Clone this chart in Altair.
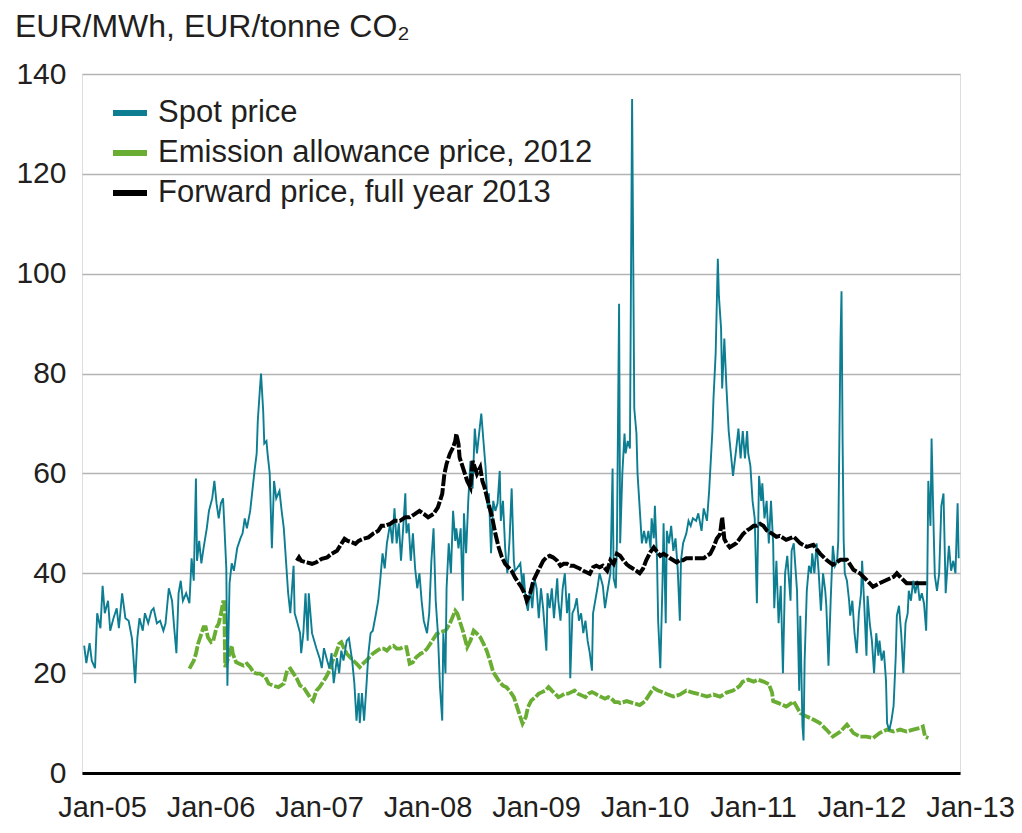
import altair as alt
import pandas as pd

S1 = "Spot price"
S2 = "Emission allowance price, 2012"
S3 = "Forward price, full year 2013"

# ---- Spot price (decimal year, EUR/MWh) ----
spot_t = [
    2005.02, 2005.04, 2005.07, 2005.09, 2005.12, 2005.14, 2005.17, 2005.19, 2005.21, 2005.24,
    2005.26, 2005.29, 2005.32, 2005.34, 2005.37, 2005.40, 2005.43, 2005.46, 2005.47, 2005.49,
    2005.51, 2005.53, 2005.56, 2005.58, 2005.61, 2005.64, 2005.66, 2005.69, 2005.72, 2005.75,
    2005.77, 2005.80, 2005.83, 2005.85, 2005.87, 2005.89, 2005.91, 2005.93, 2005.96, 2005.99,
    2006.01, 2006.03, 2006.05, 2006.06, 2006.08, 2006.10, 2006.12, 2006.15, 2006.17, 2006.20,
    2006.22, 2006.24, 2006.26, 2006.28, 2006.30, 2006.31, 2006.33, 2006.34, 2006.36, 2006.38,
    2006.40, 2006.43, 2006.46, 2006.48, 2006.50, 2006.52, 2006.55, 2006.57, 2006.59, 2006.61,
    2006.62, 2006.64, 2006.65, 2006.67, 2006.68, 2006.70, 2006.71, 2006.73, 2006.75, 2006.77,
    2006.79, 2006.82, 2006.84, 2006.86, 2006.88, 2006.90, 2006.92, 2006.95, 2006.96, 2006.98,
    2007.01, 2007.02, 2007.04, 2007.06, 2007.08, 2007.09, 2007.12, 2007.14, 2007.16, 2007.19,
    2007.21, 2007.23, 2007.26, 2007.28, 2007.30, 2007.32, 2007.35, 2007.37, 2007.39, 2007.41,
    2007.44, 2007.46, 2007.49, 2007.51, 2007.53, 2007.55, 2007.56, 2007.58, 2007.60, 2007.62,
    2007.64, 2007.66, 2007.68, 2007.71, 2007.73, 2007.75, 2007.77, 2007.79, 2007.81, 2007.84,
    2007.86, 2007.88, 2007.90, 2007.92, 2007.94, 2007.96, 2007.98, 2007.99,
    2008.01, 2008.03, 2008.05, 2008.07, 2008.09, 2008.11, 2008.13, 2008.15, 2008.18, 2008.20,
    2008.22, 2008.24, 2008.26, 2008.28, 2008.30, 2008.32, 2008.33, 2008.35, 2008.36, 2008.38,
    2008.40, 2008.42, 2008.44, 2008.45, 2008.47, 2008.49, 2008.51, 2008.52, 2008.54, 2008.56,
    2008.58, 2008.60, 2008.62, 2008.64, 2008.66, 2008.68, 2008.70, 2008.72, 2008.74, 2008.75,
    2008.77, 2008.79, 2008.81, 2008.83, 2008.85, 2008.86, 2008.88, 2008.90, 2008.92, 2008.94,
    2008.96, 2008.98, 2008.99,
    2009.01, 2009.04, 2009.06, 2009.07, 2009.09, 2009.11, 2009.13, 2009.15, 2009.17, 2009.19,
    2009.21, 2009.23, 2009.25, 2009.28, 2009.29, 2009.31, 2009.33, 2009.35, 2009.38, 2009.39,
    2009.41, 2009.43, 2009.45, 2009.47, 2009.49, 2009.50, 2009.52, 2009.54, 2009.56, 2009.58,
    2009.60, 2009.62, 2009.64, 2009.66, 2009.68, 2009.70, 2009.71, 2009.73, 2009.75, 2009.77,
    2009.80, 2009.82, 2009.84, 2009.87, 2009.89, 2009.90, 2009.92, 2009.93, 2009.95, 2009.96,
    2009.98,
    2010.00, 2010.01, 2010.03, 2010.05, 2010.07, 2010.09, 2010.11, 2010.12, 2010.14, 2010.16,
    2010.18, 2010.20, 2010.22, 2010.24, 2010.25, 2010.27, 2010.28, 2010.30, 2010.31, 2010.33,
    2010.35, 2010.36, 2010.38, 2010.39, 2010.41, 2010.43, 2010.45, 2010.47, 2010.49, 2010.51,
    2010.52, 2010.54, 2010.57, 2010.59, 2010.61, 2010.63, 2010.66, 2010.68, 2010.71, 2010.73,
    2010.76, 2010.78, 2010.81, 2010.82, 2010.84, 2010.86, 2010.87, 2010.89, 2010.90, 2010.92,
    2010.94, 2010.96, 2010.98,
    2011.00, 2011.03, 2011.05, 2011.07, 2011.09, 2011.11, 2011.13, 2011.14, 2011.16, 2011.18,
    2011.20, 2011.22, 2011.24, 2011.26, 2011.27, 2011.29, 2011.31, 2011.33, 2011.35, 2011.37,
    2011.38, 2011.40, 2011.42, 2011.44, 2011.46, 2011.48, 2011.50, 2011.53, 2011.54, 2011.56,
    2011.59, 2011.61, 2011.62, 2011.64, 2011.65, 2011.66, 2011.68, 2011.70, 2011.72, 2011.73,
    2011.75, 2011.77, 2011.79, 2011.81, 2011.83, 2011.85, 2011.86, 2011.88, 2011.90, 2011.92,
    2011.94, 2011.96, 2011.97, 2011.99,
    2012.00, 2012.01, 2012.02, 2012.03, 2012.05, 2012.07, 2012.08, 2012.10, 2012.12, 2012.14,
    2012.16, 2012.18, 2012.19, 2012.21, 2012.23, 2012.24, 2012.26, 2012.28, 2012.30, 2012.32,
    2012.34, 2012.35, 2012.37, 2012.39, 2012.41, 2012.42, 2012.44, 2012.46, 2012.48, 2012.50,
    2012.51, 2012.53, 2012.55, 2012.57, 2012.59, 2012.61, 2012.62, 2012.64, 2012.66, 2012.68,
    2012.70, 2012.72, 2012.74, 2012.76, 2012.78, 2012.79, 2012.80, 2012.82, 2012.83, 2012.85,
    2012.86, 2012.88, 2012.90, 2012.92, 2012.94, 2012.96, 2012.98, 2012.99,
    2013.01, 2013.03, 2013.05, 2013.07, 2013.08,
]
spot_v = [
    25.5, 22, 26, 22.5, 21, 32, 29, 37.5, 32, 34.5,
    28.5, 31, 33, 29, 36, 31, 30.5, 27, 24.5, 18,
    27, 31, 28.5, 32, 30, 32.5, 33, 30, 30.5, 28.5,
    30, 37, 34.5, 29, 24, 36, 38.5, 34.5, 36, 34,
    43, 38.5, 59, 42.5, 46.5, 42, 45, 49, 52.5, 55,
    58.5, 54, 51, 54, 55, 50.5, 41, 17.5, 38, 42,
    40.5, 45, 47, 48, 51, 49, 52.5, 56.5, 60.5, 64,
    70.5, 77, 80, 72.5, 66, 66.5, 64, 60, 45, 58.5,
    55, 56.5, 52.5, 49, 42.5, 36, 32, 41.5, 32, 30.5,
    28, 24, 28, 36, 26.5, 36, 28, 26.5, 25, 23,
    21, 25, 22.5, 21, 24, 18, 23, 20, 24.5, 22.5,
    26.5, 27, 22.5, 18, 10.5, 16, 10, 16, 10.5, 17,
    24, 28, 28.5, 32, 34.5, 39, 44, 41, 46, 50,
    46, 53, 46, 50, 42.5, 49, 56, 48,
    50, 42.5, 48, 41, 37, 40, 34.5, 30.5, 28, 32,
    42.5, 49, 34.5, 28, 17, 10.5, 28, 20, 37, 46,
    40, 52.5, 46.5, 49, 45, 49, 34.5, 52, 44, 54.5,
    62.5, 57, 69, 64, 68, 72, 66.5, 61, 53, 56,
    44, 54.5, 52.5, 54, 60.5, 50.5, 54.5, 45, 40, 46.5,
    57, 42.5, 40.5,
    41, 42, 37, 40, 34.5, 32.5, 37, 33, 39, 37,
    31, 37, 33, 24.5, 36, 33, 37, 31, 39, 34.5,
    30.5, 37, 40, 32, 36, 19, 32, 33, 35, 30.5,
    32, 28, 30.5, 26.5, 24, 20.5, 32, 34.5, 37, 40,
    37.5, 33, 36, 40, 61, 39, 37, 46, 94, 46,
    60,
    68, 64, 66.5, 65, 135, 73, 68, 60, 53, 46,
    48.5, 46, 48.5, 45, 51, 47, 53.5, 42.5, 30.5, 21,
    38, 50, 30, 48.5, 46, 49.5, 44.5, 47, 41, 30.5,
    42.5, 46, 48, 50.5, 49.5, 51, 50.5, 52, 48.5, 53,
    50.5, 56.5, 68.5, 75, 84, 103, 95.5, 89, 77, 87,
    77, 68.5, 64,
    59.5, 65, 69, 63, 68.5, 63, 68.5, 64, 61.5, 54.5,
    51, 34, 59.5, 54.5, 58, 51, 54.5, 46, 54.5, 46,
    33, 42.5, 30, 37.5, 20, 40, 43.5, 34.5, 44.5, 46,
    36.5, 16.5, 31.5, 9.5, 6.5, 22.5, 36.5, 41.5, 40, 44,
    40, 46, 40, 32.5, 40, 36.5, 33.5, 21.5, 34.5, 45.5,
    41.5, 42.5, 46.5, 86,
    96.5, 66.5, 46.5, 40, 38.5, 34.5, 31.5, 34.5, 28, 24,
    32, 36, 42.5, 33.5, 23.5, 35.5, 30, 26.5, 20, 28,
    23.5, 26.5, 22.5, 24.5, 18.5, 10, 8.5, 10.5, 13.5, 23.5,
    31.5, 33.5, 28, 20, 30, 32, 36.5, 34.5, 38.5, 36,
    38.5, 34.5, 36, 34, 28.5, 37.5, 58.5, 49.5, 67, 48,
    39.5, 36.5, 40, 53.5, 56, 36, 42.5, 45.5,
    40.5, 42.5, 40, 54, 43,
]

# ---- Emission allowance price, 2012 (EUR/tonne CO2) ----
emis_t = [
    2005.99,
    2006.03, 2006.05, 2006.07, 2006.09, 2006.12, 2006.14, 2006.16, 2006.19, 2006.21, 2006.24,
    2006.26, 2006.28, 2006.30, 2006.31, 2006.32, 2006.34, 2006.36, 2006.38, 2006.39, 2006.42,
    2006.45, 2006.49, 2006.52, 2006.55, 2006.58, 2006.61, 2006.64, 2006.69, 2006.72, 2006.76,
    2006.81, 2006.86, 2006.89, 2006.92, 2006.95, 2006.98,
    2007.01, 2007.04, 2007.07, 2007.10, 2007.13, 2007.16, 2007.19, 2007.22, 2007.25, 2007.28,
    2007.31, 2007.34, 2007.37, 2007.39, 2007.41, 2007.44, 2007.47, 2007.50, 2007.53, 2007.56,
    2007.59, 2007.62, 2007.65, 2007.68, 2007.72, 2007.75, 2007.78, 2007.81, 2007.84, 2007.87,
    2007.90, 2007.93, 2007.96, 2007.99,
    2008.02, 2008.05, 2008.08, 2008.12, 2008.15, 2008.18, 2008.21, 2008.24, 2008.27, 2008.30,
    2008.35, 2008.39, 2008.44, 2008.46, 2008.48, 2008.51, 2008.55, 2008.58, 2008.61, 2008.64,
    2008.67, 2008.70, 2008.73, 2008.76, 2008.79, 2008.82, 2008.85, 2008.88, 2008.91, 2008.94,
    2008.98,
    2009.01, 2009.04, 2009.06, 2009.09, 2009.11, 2009.14, 2009.18, 2009.21, 2009.24, 2009.27,
    2009.30, 2009.33, 2009.36, 2009.39, 2009.42, 2009.45, 2009.48, 2009.51, 2009.54, 2009.57,
    2009.61, 2009.64, 2009.67, 2009.70, 2009.73, 2009.76, 2009.79, 2009.82, 2009.85, 2009.88,
    2009.91, 2009.94, 2009.96,
    2010.02, 2010.08, 2010.14, 2010.19, 2010.24, 2010.27, 2010.31, 2010.36, 2010.40, 2010.45,
    2010.51, 2010.57, 2010.63, 2010.70, 2010.76, 2010.82, 2010.88, 2010.94,
    2011.00, 2011.06, 2011.09, 2011.14, 2011.19, 2011.23, 2011.28, 2011.33, 2011.36, 2011.37,
    2011.42, 2011.46, 2011.49, 2011.56, 2011.62, 2011.68, 2011.74, 2011.80, 2011.86, 2011.92,
    2011.99,
    2012.05, 2012.11, 2012.17, 2012.23, 2012.29, 2012.35, 2012.42, 2012.48, 2012.54, 2012.60,
    2012.66, 2012.72, 2012.75, 2012.77, 2012.80,
]
emis_v = [
    20.9,
    22.5, 23.9, 25.9, 27.2, 29.2, 29.2, 27.2, 26.2, 26.5, 29.2,
    29.9, 31.9, 34.2, 34.2, 21.2, 22.5, 23.9, 25.5, 23.9, 22.2,
    21.9, 21.5, 21.9, 21.2, 20.2, 19.9, 19.9, 19.2, 17.9, 17.5,
    17.2, 17.9, 20.5, 20.9, 19.9, 18.9,
    17.5, 17.2, 16.2, 15.2, 14.5, 16.5, 17.2, 18.2, 19.2, 20.5,
    22.5, 23.9, 25.9, 26.2, 25.2, 23.9, 23.2, 22.5, 21.9, 21.2,
    21.9, 22.5, 23.2, 23.9, 24.5, 24.9, 24.9, 24.5, 25.2, 25.5,
    24.9, 24.9, 25.2, 25.2,
    21.9, 22.2, 23.2, 23.9, 24.2, 24.9, 25.9, 26.9, 27.9, 28.2,
    28.5, 29.9, 32.5, 31.9, 30.5, 28.5, 25.2, 26.5, 28.5, 27.9,
    27.2, 25.9, 24.5, 22.5, 20.2, 19.2, 18.2, 17.5, 17.2, 16.5,
    15.2,
    13.2, 11.2, 9.9, 11.2, 13.2, 14.5, 15.2, 15.9, 16.2, 16.5,
    17.2, 16.5, 15.9, 15.2, 15.5, 15.9, 15.9, 16.2, 16.5, 15.9,
    15.5, 15.2, 15.9, 16.2, 15.9, 15.5, 15.2, 14.9, 15.2, 14.9,
    14.2, 14.2, 14,
    14.4, 14, 13.6, 14.4, 16.1, 17, 16.5, 16.1, 15.7, 15.3,
    15.7, 16.5, 16.1, 15.7, 15.3, 15.7, 15.3, 16.1,
    16.5, 17.4, 18.3, 18.7, 18.3, 18.7, 18.3, 17.8, 16.1, 14.4,
    14, 13.6, 13.3, 14.3, 12, 11.3, 10.7, 10, 8.7, 7.3,
    8.3,
    9.7, 8, 7.3, 7.3, 7, 8, 8.7, 8.3, 8.7, 8.3,
    8.7, 9, 9.3, 7.3, 7,
]

# ---- Forward price, full year 2013 (EUR/MWh) ----
fwd_t = [
    2006.98,
    2007.00, 2007.02, 2007.07, 2007.12, 2007.16, 2007.21, 2007.26, 2007.30, 2007.35, 2007.39,
    2007.42, 2007.45, 2007.49, 2007.52, 2007.55, 2007.59, 2007.64, 2007.68, 2007.73, 2007.76,
    2007.79, 2007.84, 2007.88, 2007.93, 2007.98,
    2008.02, 2008.07, 2008.11, 2008.15, 2008.19, 2008.24, 2008.28, 2008.32, 2008.34, 2008.36,
    2008.39, 2008.42, 2008.44, 2008.45, 2008.47, 2008.48, 2008.51, 2008.55, 2008.58, 2008.60,
    2008.62, 2008.64, 2008.67, 2008.69, 2008.71, 2008.74, 2008.78, 2008.81, 2008.84, 2008.87,
    2008.90, 2008.93, 2008.96, 2008.99,
    2009.02, 2009.05, 2009.08, 2009.10, 2009.13, 2009.16, 2009.19, 2009.22, 2009.25, 2009.28,
    2009.31, 2009.34, 2009.38, 2009.41, 2009.44, 2009.47, 2009.50, 2009.53, 2009.56, 2009.59,
    2009.62, 2009.65, 2009.68, 2009.71, 2009.74, 2009.77, 2009.80, 2009.84, 2009.87, 2009.90,
    2009.93, 2009.96, 2009.99,
    2010.02, 2010.05, 2010.08, 2010.11, 2010.14, 2010.17, 2010.20, 2010.24, 2010.27, 2010.30,
    2010.33, 2010.36, 2010.39, 2010.42, 2010.45, 2010.48, 2010.51, 2010.54, 2010.57, 2010.60,
    2010.63, 2010.67, 2010.70, 2010.73, 2010.76, 2010.79, 2010.82, 2010.85, 2010.88, 2010.90,
    2010.92, 2010.94, 2010.97,
    2011.00, 2011.03, 2011.06, 2011.09, 2011.13, 2011.16, 2011.19, 2011.22, 2011.25, 2011.28,
    2011.31, 2011.34, 2011.37, 2011.40, 2011.43, 2011.49, 2011.56, 2011.62, 2011.68, 2011.74,
    2011.80, 2011.86, 2011.92, 2011.99,
    2012.05, 2012.11, 2012.17, 2012.23, 2012.29, 2012.35, 2012.42, 2012.48, 2012.51, 2012.54,
    2012.60, 2012.66, 2012.72, 2012.79,
]
fwd_v = [
    42.5,
    43.2, 42.5, 42.2, 41.9, 42.2, 42.9, 43.2, 43.9, 44.5, 45.9,
    46.9, 46.5, 46.2, 45.9, 46.5, 46.9, 47.2, 47.9, 48.5, 49.5,
    49.5, 49.9, 50.5, 50.5, 51.2,
    51.2, 51.9, 52.5, 51.9, 51.2, 51.9, 53.2, 55.9, 59.9, 61.9,
    63.9, 65.2, 66.5, 67.9, 65.9, 63.2, 61.2, 58.5, 57.2, 62.5,
    61.2, 59.9, 61.2, 58.5, 57.2, 54.5, 51.2, 47.9, 45.2, 43.2,
    41.9, 41.2, 40.5, 39.2,
    38.2, 37.2, 35.9, 34.5, 35.9, 38.5, 39.9, 41.2, 42.5, 43.2,
    43.5, 43.2, 42.5, 41.5, 41.9, 41.9, 41.5, 41.5, 41.2, 40.9,
    40.5, 40.2, 39.9, 41.2, 41.5, 41.2, 41.5, 40.5, 42.6, 41.9,
    43.9, 43.5, 42.6,
    41.8, 41.3, 40.9, 40.5, 40, 40.9, 42.6, 44.3, 45.2, 44.3,
    43.5, 43.9, 43.5, 43, 42.6, 42.2, 42.6, 42.6, 43, 43,
    43, 43, 43, 43, 43.5, 43.9, 45.2, 46.9, 47.8, 51.2,
    46.9, 46, 45.2,
    45.6, 46, 46.9, 47.8, 48.6, 49, 49.5, 49.5, 49.9, 49.5,
    48.6, 48.2, 47.8, 47.3, 47.5, 46.7, 47.3, 46, 45.3, 45.7,
    44, 42.7, 41.7, 42.7,
    42.7, 40.7, 40, 38.7, 37.3, 38, 38.7, 39.3, 40, 39.3,
    38, 38, 38, 38,
]

assert len(spot_t) == len(spot_v)
assert len(emis_t) == len(emis_v)
assert len(fwd_t) == len(fwd_v)

series_names = [S1, S2, S3]
series_colors = ["#0d7d92", "#69ad32", "#000000"]
year_ticks = list(range(2005, 2014))
y_ticks = [0, 20, 40, 60, 80, 100, 120, 140]

df = pd.concat([
    pd.DataFrame({"t": spot_t, "v": spot_v, "series": S1}),
    pd.DataFrame({"t": emis_t, "v": emis_v, "series": S2}),
    pd.DataFrame({"t": fwd_t, "v": fwd_v, "series": S3}),
], ignore_index=True)

FONT = "Liberation Sans, Arial, sans-serif"
TXT = "#231f20"

legend = alt.Legend(
    title=None, orient="none", legendX=28, legendY=19, direction="vertical",
    symbolType="stroke", symbolSize=1156, symbolStrokeWidth=6, symbolDash=[1, 0],
    labelFont=FONT, labelFontSize=31, labelColor=TXT, labelOffset=8,
    rowPadding=5, padding=0, labelLimit=600,
)

color = alt.Color("series:N",
                  scale=alt.Scale(domain=series_names, range=series_colors),
                  legend=legend)

x = alt.X("t:Q",
          scale=alt.Scale(domain=[2005, 2013.092], nice=False, zero=False),
          axis=alt.Axis(values=year_ticks, title=None, grid=False, ticks=False, tickSize=0,
                        labelExpr="'Jan-' + substring(toString(datum.value), 2, 4)",
                        labelFont=FONT, labelFontSize=29, labelColor=TXT,
                        labelPadding=20, labelOffset=20, labelFlush=False,
                        labelOverlap=False, labelBound=False,
                        domainColor="#000000", domainWidth=3))
y = alt.Y("v:Q",
          scale=alt.Scale(domain=[0, 140], nice=False, zero=True),
          axis=alt.Axis(values=y_ticks, title=None, domain=False, ticks=False, tickSize=0,
                        grid=True, gridColor="#b3b3b3", gridWidth=1.6,
                        labelFont=FONT, labelFontSize=30, labelColor=TXT,
                        labelPadding=16))

base = alt.Chart(df)
green = base.transform_filter(alt.datum.series == S2).mark_line(
    strokeWidth=3.8, strokeDash=[11, 2]).encode(x=x, y=y, color=color)
spot = base.transform_filter(alt.datum.series == S1).mark_line(
    strokeWidth=1.9).encode(x=x, y=y, color=color)
black = base.transform_filter(alt.datum.series == S3).mark_line(
    strokeWidth=4, strokeDash=[12, 2]).encode(x=x, y=y, color=color)

chart = alt.layer(green, spot, black).properties(
    width=878, height=699,
    title=alt.TitleParams("EUR/MWh, EUR/tonne CO₂", anchor="start", frame="group",
                          dx=-67, offset=-10, baseline="alphabetic",
                          font=FONT, fontSize=32, fontWeight="normal", color=TXT),
    autosize=alt.AutoSizeParams(type="none"),
    padding={"left": 74, "top": 66, "right": 54, "bottom": 52},
).configure_view(stroke=None).configure(background="white")

chart.save("out.html", embed_options={"renderer": "svg", "actions": False})
